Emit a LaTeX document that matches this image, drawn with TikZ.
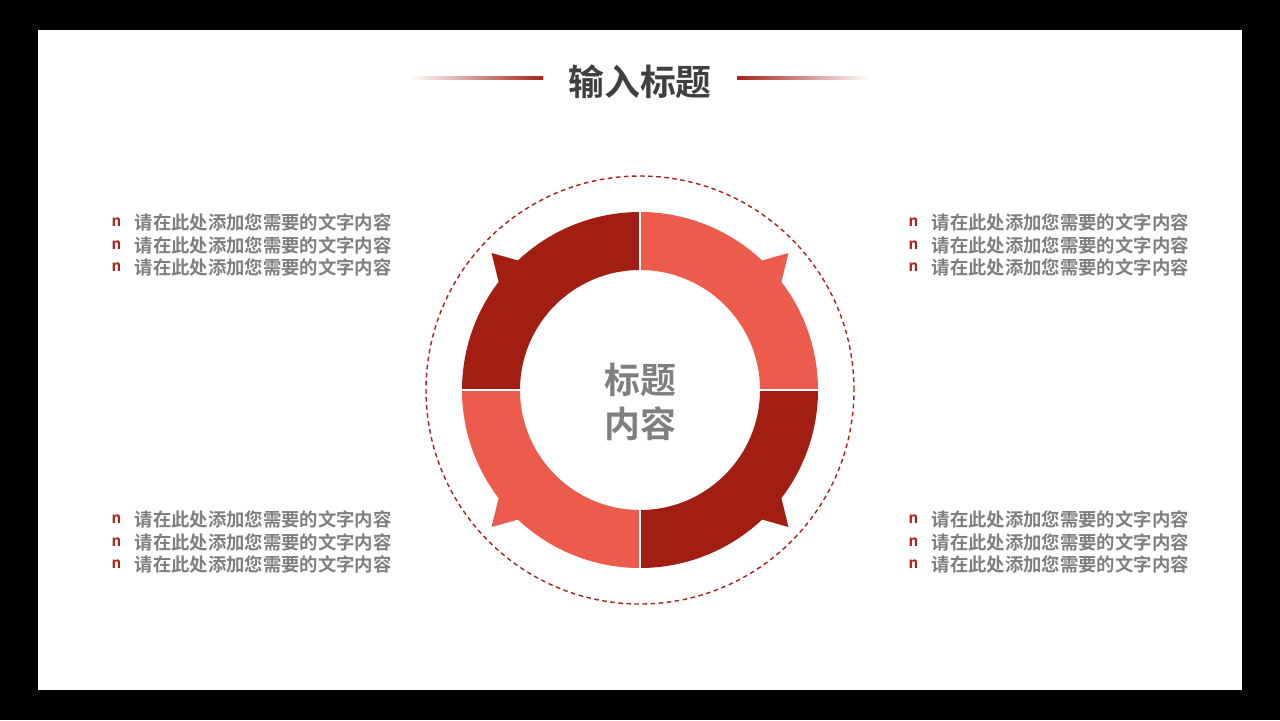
\documentclass[tikz,border=0pt]{standalone}
\usepackage{fontspec}
\setmainfont{Noto Sans CJK SC}[BoldFont={Noto Sans CJK SC Bold}]
\usepackage{tikz}
\definecolor{ringdark}{HTML}{A21E13}
\definecolor{ringlight}{HTML}{ED5B4D}
\definecolor{titlered}{HTML}{A8231A}
\definecolor{textgrey}{HTML}{7F7F7F}
\definecolor{titlegrey}{HTML}{404040}

\begin{document}
\begin{tikzpicture}[x=0.01cm,y=0.01cm,
   item/.style={anchor=west,inner sep=0pt,font=\bfseries\fontsize{5.22}{6}\selectfont,text=textgrey},
   bulletmark/.style={anchor=west,inner sep=0pt,font=\bfseries\fontsize{4.3}{6}\selectfont,text=titlered}]
   % frame
   \fill[black] (0,0) rectangle (1280,720);
   \fill[white] (38,30) rectangle (1242,690);
   \useasboundingbox (0,0) rectangle (1280,720);
   % heading
   \node[font=\bfseries\fontsize{10.2}{12}\selectfont,text=titlegrey] (head) at (640,638) {输入标题};
   \shade[left color=white,right color=titlered] (410,640.5) rectangle (543,643.5);
   \shade[left color=titlered,right color=white] (737,640.5) rectangle (870,643.5);
   % ring
   \begin{scope}[shift={(640,330)}]
   \foreach \s/\e/\ba/\bt/\bb/\col in {90/180/133.3/137.3/142.6/ringdark,
      0/90/37.4/42.7/46.7/ringlight, 270/360/313.3/317.3/322.6/ringdark,
      180/270/217.4/222.7/226.7/ringlight}
   \fill[\col] (\s:120) -- (\s:178) arc[start angle=\s,end angle=\ba,radius=178]
      -- (\bt:202) -- (\bb:178) arc[start angle=\bb,end angle=\e,radius=178]
      -- (\e:120) arc[start angle=\e,end angle=\s,radius=120] -- cycle;
   \draw[white,line width=0.6pt] (-185,0) -- (185,0) (0,-185) -- (0,185);
   \draw[titlered,dashed,line width=0.4pt,dash pattern=on 1.3pt off 1pt] (0,0) circle[radius=214];
   \end{scope}
   \node[font=\bfseries\fontsize{10.2}{12.5}\selectfont,text=textgrey,align=center] (hub) at (640,318) {标题\\内容};
   % text lines
   \foreach \y [count=\i] in {498,475,453} {
      \node[bulletmark] (lm\i) at (111,\y) {n};
      \node[item] (lt\i) at (134,\y) {请在此处添加您需要的文字内容};
      \node[bulletmark] (rm\i) at (908,\y) {n};
      \node[item] (rt\i) at (931,\y) {请在此处添加您需要的文字内容};
   }
   \foreach \y [count=\i] in {201,178,156} {
      \node[bulletmark] (lbm\i) at (111,\y) {n};
      \node[item] (lb\i) at (134,\y) {请在此处添加您需要的文字内容};
      \node[bulletmark] (rbm\i) at (908,\y) {n};
      \node[item] (rb\i) at (931,\y) {请在此处添加您需要的文字内容};
   }
\end{tikzpicture}
\end{document}
